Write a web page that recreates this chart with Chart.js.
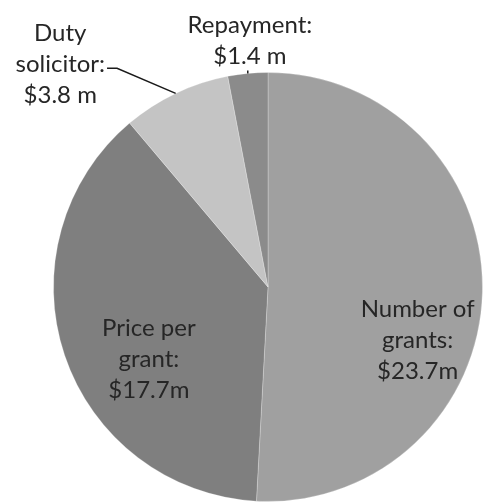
<!DOCTYPE html>
<html>
<head>
<meta charset="utf-8">
<script src="https://cdn.jsdelivr.net/npm/chart.js@4"></script>
<style>
  html, body { margin: 0; padding: 0; background: #fff; }
  #wrap { width: 487px; height: 502px; position: relative; }
</style>
</head>
<body>
<div id="wrap"><canvas id="pie"></canvas></div>
<script>
// chart data
const categories = ['Number of grants', 'Price per grant', 'Duty solicitor', 'Repayment'];
const values = [23.7, 17.7, 3.8, 1.4];
const valueLabels = ['$23.7m', '$17.7m', '$3.8 m', '$1.4 m'];
const labelLines = [
  ['Number of', 'grants:'],
  ['Price per', 'grant:'],
  ['Duty', 'solicitor:'],
  ['Repayment:']
];
const sliceColors = ['#a0a0a0', '#7f7f7f', '#c4c4c4', '#8b8b8b'];

// where each label sits: polar offset from the pie centre (deg clockwise from top, radius as fraction of pie radius)
const labelPlacement = [
  { angle: 109.5, r: 0.74, leader: false },
  { angle: 238.7, r: 0.65, leader: false },
  { angle: 317, r: 1.42, leader: 'elbow' },
  { angle: 355.8, r: 1.15, leader: 'tick' }
];

const labelPlugin = {
  id: 'sliceLabels',
  afterDatasetsDraw(chart) {
    const ctx = chart.ctx;
    const meta = chart.getDatasetMeta(0);
    const lineH = 31;
    ctx.save();
    ctx.font = '24px Lato';
    ctx.fillStyle = '#262626';
    ctx.textAlign = 'center';
    ctx.textBaseline = 'middle';
    meta.data.forEach((arc, i) => {
      const p = arc.getProps(['x', 'y', 'startAngle', 'endAngle', 'outerRadius'], true);
      const pl = labelPlacement[i];
      const a = (pl.angle - 90) * Math.PI / 180;
      const cx = p.x + Math.cos(a) * p.outerRadius * pl.r;
      const cy = p.y + Math.sin(a) * p.outerRadius * pl.r;
      const lines = labelLines[i].concat([valueLabels[i]]);
      const top = cy - (lines.length - 1) * lineH / 2;
      lines.forEach((t, k) => ctx.fillText(t, cx, top + k * lineH));

      const mid = (p.startAngle + p.endAngle) / 2;
      const ex = p.x + Math.cos(mid) * p.outerRadius;
      const ey = p.y + Math.sin(mid) * p.outerRadius;
      ctx.strokeStyle = '#1a1a1a';
      ctx.lineWidth = 1.5;
      if (pl.leader === 'elbow') {
        const w = ctx.measureText(lines[1]).width;
        const sx = cx + w / 2 + 2;
        const sy = top + lineH + 4;
        ctx.beginPath();
        ctx.moveTo(sx, sy);
        ctx.lineTo(sx + 10, sy);
        ctx.lineTo(ex, ey);
        ctx.stroke();
      } else if (pl.leader === 'tick') {
        ctx.beginPath();
        ctx.moveTo(ex, ey - 3);
        ctx.lineTo(ex, ey);
        ctx.stroke();
      }
    });
    ctx.restore();
  }
};

new Chart(document.getElementById('pie'), {
  type: 'pie',
  data: {
    labels: categories,
    datasets: [{
      data: values,
      backgroundColor: sliceColors,
      borderColor: 'rgba(255,255,255,0.25)',
      borderWidth: 1
    }]
  },
  options: {
    responsive: true,
    maintainAspectRatio: false,
    animation: false,
    layout: {
      padding: { left: 52, right: 3, top: 72, bottom: 0 }
    },
    plugins: {
      legend: { display: false },
      tooltip: { enabled: false }
    }
  },
  plugins: [labelPlugin]
});
</script>
</body>
</html>
